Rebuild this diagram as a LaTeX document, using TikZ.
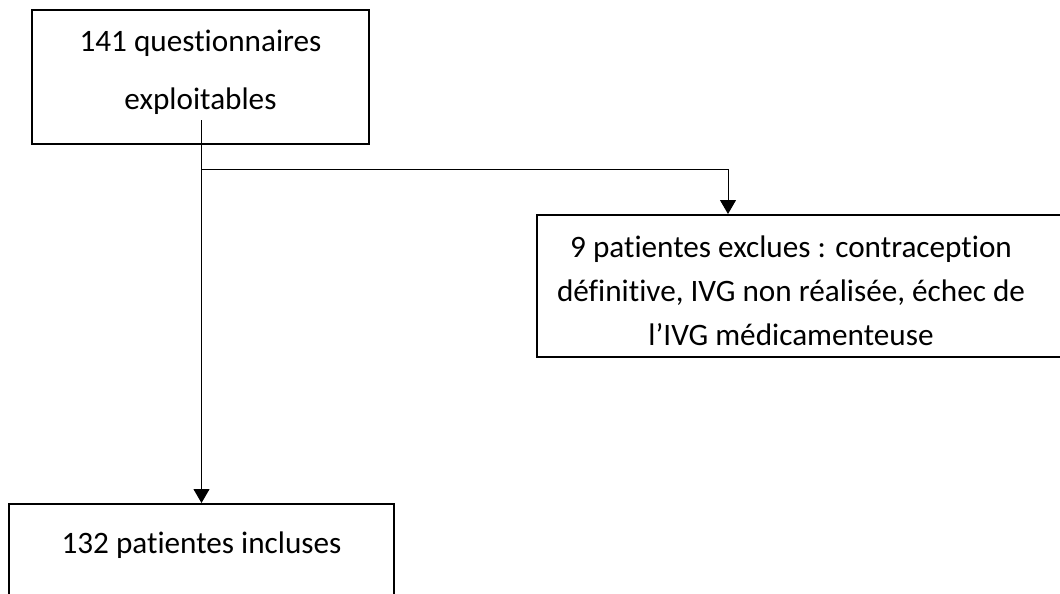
\documentclass[tikz,border=0pt]{standalone}
\usepackage{fontspec}
\setmainfont{Carlito}[Ligatures=CommonOff]
\usetikzlibrary{arrows.meta}
\begin{document}
\begin{tikzpicture}[x=1pt,y=-1pt,
  box/.style={draw, line width=2pt, rectangle, inner sep=0pt},
  txt/.style={font=\fontsize{31.2}{44}\selectfont, align=center, inner sep=0pt, anchor=base},
  conn/.style={line width=1pt},
  arr/.style={conn, -{Triangle[length=14pt,width=16pt]}}]
\useasboundingbox (0,0) rectangle (1060,594);
% boxes
\node[box, minimum width=337pt, minimum height=134pt] (top) at (200.5,77) {};
\node[box, minimum width=663pt, minimum height=142pt] (excl) at (868.5,286) {};
\node[box, minimum width=385pt, minimum height=136pt] (incl) at (201.5,572) {};
% texts
\node[txt] (t1) at (200.5,52) {141 questionnaires};
\node[txt] (t2) at (200.5,110) {exploitables};
\node[txt] (t3) at (791,345) {9 patientes exclues : contraception\\définitive, IVG non réalisée, échec de\\l’IVG médicamenteuse};
\node[txt] (t4) at (201.5,553) {132 patientes incluses};
% connectors
\coordinate (s) at (201.5,120);
\coordinate (j) at (201.5,169);
\draw[arr] (s) -- (incl.north);
\draw[arr] (j) -| ([xshift=192pt]excl.north west);
\end{tikzpicture}
\end{document}
